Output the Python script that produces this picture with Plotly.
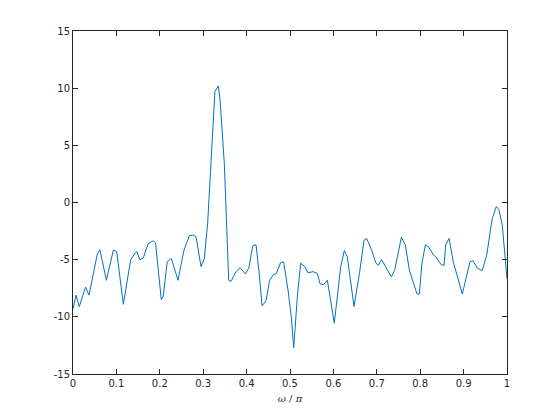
import plotly.graph_objects as go

# frequency (omega/pi) and magnitude values
omega = [0.0, 0.007, 0.0145, 0.029, 0.037, 0.053, 0.056, 0.062, 0.077, 0.093, 0.1007,
         0.116, 0.133, 0.1436, 0.147, 0.154, 0.162, 0.173, 0.185, 0.19, 0.2035, 0.208,
         0.217, 0.2266, 0.242, 0.2558, 0.2634, 0.268, 0.277, 0.2834, 0.295, 0.3026,
         0.3103, 0.3145, 0.3195,
         0.327, 0.3349, 0.3387, 0.3487, 0.3564, 0.3587, 0.364, 0.3756, 0.385, 0.397,
         0.405, 0.414, 0.4217, 0.4254, 0.429, 0.4355, 0.4447, 0.453, 0.4608, 0.4685,
         0.4785, 0.4854, 0.4954, 0.503, 0.5085, 0.517, 0.5246, 0.5338, 0.5415, 0.553,
         0.563, 0.569, 0.5768, 0.586, 0.602, 0.609, 0.6168, 0.6252, 0.632, 0.6475,
         0.66, 0.6705, 0.6767, 0.688, 0.698, 0.7035, 0.711, 0.7335, 0.741, 0.7566,
         0.7657, 0.775, 0.7926, 0.798, 0.804, 0.812, 0.8196, 0.831, 0.836, 0.8486,
         0.855, 0.8587, 0.8664, 0.8763, 0.897, 0.9147, 0.9217, 0.9316, 0.943, 0.9532,
         0.966, 0.9754, 0.9816, 0.9892, 0.996, 1.0]
mag = [-9.3, -8.1, -9.1, -7.4, -8.1, -5.0, -4.5, -4.15, -6.8, -4.15, -4.3,
       -8.9, -5.0, -4.4, -4.3, -5.0, -4.85, -3.6, -3.35, -3.5, -8.5, -8.2,
       -5.2, -4.9, -6.8, -4.15, -3.4, -2.9, -2.85, -3.0, -5.6, -4.9,
       -1.8, 1.4, 5.2,
       9.7, 10.2, 9.0, 3.4, -3.3, -6.8, -6.9, -6.05, -5.7, -6.25,
       -5.75, -3.8, -3.7, -4.9, -6.2, -9.05, -8.6, -6.8, -6.35, -6.2,
       -5.25, -5.2, -7.65, -10.0, -12.7, -8.2, -5.3, -5.6, -6.15, -6.05,
       -6.2, -7.1, -7.2, -6.8, -10.55, -8.25, -5.6, -4.2, -4.75, -9.1,
       -6.2, -3.3, -3.15, -4.15, -5.3, -5.5, -5.0, -6.5, -5.95, -3.05,
       -3.7, -5.9, -8.0, -8.0, -5.3, -3.7, -3.9, -4.6, -4.75, -5.45,
       -5.5, -3.7, -3.15, -5.2, -8.0, -5.2, -5.1, -5.75, -5.95, -4.6,
       -1.4, -0.35, -0.65, -2.0, -4.9, -6.7]

x_ticks = [0, 0.1, 0.2, 0.3, 0.4, 0.5, 0.6, 0.7, 0.8, 0.9, 1]
x_tick_labels = ["0", "0.1", "0.2", "0.3", "0.4", "0.5", "0.6", "0.7", "0.8", "0.9", "1"]
y_ticks = [-15, -10, -5, 0, 5, 10, 15]
y_tick_labels = ["-15", "-10", "-5", "0", "5", "10", "15"]

fig = go.Figure()
fig.add_trace(go.Scatter(x=omega, y=mag, mode="lines",
                         line=dict(color="#0072BD", width=1), showlegend=False))

axis_common = dict(showgrid=False, zeroline=False, showline=True, mirror="ticks",
                   linecolor="#262626", linewidth=1, ticks="inside", ticklen=5,
                   tickcolor="#262626", tickwidth=1,
                   tickfont=dict(family="DejaVu Sans", size=10, color="#262626"))

fig.update_layout(
    width=552, height=412,
    margin=dict(l=65, r=53, t=23, b=46),
    paper_bgcolor="white", plot_bgcolor="white",
    xaxis=dict(range=[0, 1], tickvals=x_ticks, ticktext=x_tick_labels,
               title=dict(text="<i>ω</i> / <i>π</i>", standoff=6,
                          font=dict(family="DejaVu Serif", size=10, color="#262626")),
               **axis_common),
    yaxis=dict(range=[-15, 15], tickvals=y_ticks, ticktext=y_tick_labels,
               **axis_common),
)

fig.write_html("out.html")
